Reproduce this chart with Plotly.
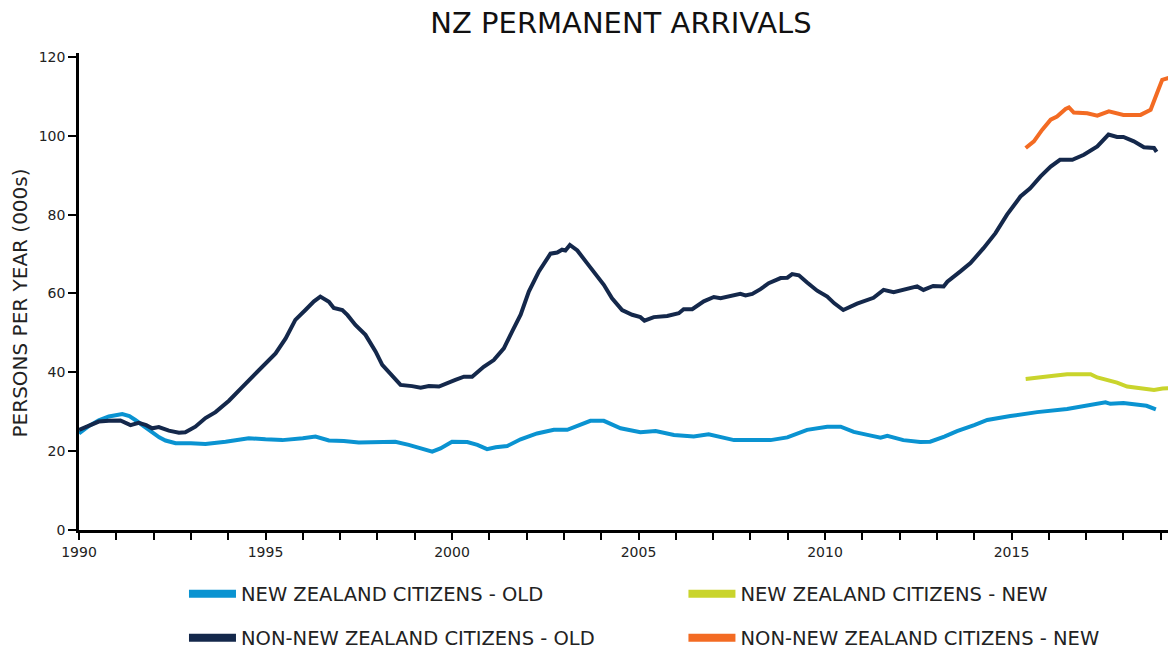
import plotly.graph_objects as go

# ---- data ----
nz_old_x = [1990.0, 1990.25, 1990.53, 1990.8, 1991.16, 1991.35, 1991.51, 1991.75, 1991.96, 1992.15,
            1992.32, 1992.59, 1993.0, 1993.39, 1993.93, 1994.55, 1995.0, 1995.45, 1996.0, 1996.34,
            1996.7, 1997.1, 1997.5, 1998.0, 1998.48, 1998.84, 1999.2, 1999.47, 1999.69, 2000.0,
            2000.41, 2000.68, 2000.94, 2001.17, 2001.48, 2001.84, 2002.28, 2002.73, 2003.09, 2003.4,
            2003.71, 2004.07, 2004.52, 2005.05, 2005.46, 2005.95, 2006.48, 2006.88, 2007.56, 2008.54,
            2008.99, 2009.52, 2010.06, 2010.42, 2010.77, 2011.2, 2011.49, 2011.67, 2012.1, 2012.55,
            2012.82, 2013.2, 2013.54, 2014.0, 2014.35, 2014.97, 2015.69, 2016.49, 2016.94, 2017.52,
            2017.65, 2018.0, 2018.62, 2018.87]
nz_old_y = [24.5, 26.3, 27.8, 28.8, 29.4, 28.9, 27.9, 26.2, 24.7, 23.5,
            22.7, 22.0, 22.0, 21.8, 22.4, 23.3, 23.0, 22.8, 23.3, 23.7,
            22.7, 22.6, 22.2, 22.3, 22.4, 21.6, 20.6, 19.9, 20.7, 22.4,
            22.3, 21.6, 20.5, 21.0, 21.3, 23.0, 24.5, 25.4, 25.4, 26.5,
            27.7, 27.7, 25.8, 24.8, 25.1, 24.1, 23.7, 24.3, 22.8, 22.8,
            23.5, 25.4, 26.2, 26.2, 24.9, 24.0, 23.4, 23.9, 22.8, 22.3,
            22.4, 23.7, 25.1, 26.6, 27.9, 28.9, 29.9, 30.7, 31.5, 32.4,
            32.0, 32.2, 31.5, 30.6]

nz_new_x = [2015.38, 2015.62, 2015.9, 2016.13, 2016.49, 2017.12, 2017.3, 2017.57, 2017.83, 2018.1,
            2018.46, 2018.82, 2019.05, 2019.3]
nz_new_y = [38.3, 38.5, 38.7, 39.1, 39.5, 39.5, 38.7, 38.1, 37.4, 36.4,
            36.0, 35.5, 35.9, 36.0]

non_old_x = [1990.0, 1990.25, 1990.53, 1990.8, 1991.11, 1991.38, 1991.6, 1991.8, 1991.96, 1992.14,
             1992.41, 1992.68, 1992.85, 1993.12, 1993.39, 1993.66, 1994.02, 1994.37, 1994.6, 1994.82,
             1995.05, 1995.27, 1995.54, 1995.8, 1996.07, 1996.3, 1996.47, 1996.6, 1996.7, 1996.83,
             1997.06, 1997.2, 1997.41, 1997.68, 1997.95, 1998.13, 1998.4, 1998.62, 1998.93, 1999.16,
             1999.38, 1999.65, 2000.09, 2000.32, 2000.54, 2000.85, 2001.12, 2001.39, 2001.61, 2001.84,
             2002.06, 2002.33, 2002.64, 2002.82, 2002.95, 2003.04, 2003.16, 2003.36, 2003.62, 2003.85,
             2004.07, 2004.29, 2004.56, 2004.83, 2005.05, 2005.16, 2005.41, 2005.77, 2006.08, 2006.21,
             2006.44, 2006.75, 2007.02, 2007.2, 2007.56, 2007.73, 2007.87, 2008.05, 2008.27, 2008.49,
             2008.81, 2008.99, 2009.12, 2009.3, 2009.52, 2009.79, 2010.06, 2010.25, 2010.49, 2010.86,
             2011.3, 2011.57, 2011.84, 2012.2, 2012.47, 2012.64, 2012.9, 2013.18, 2013.28, 2013.63,
             2013.9, 2014.25, 2014.57, 2014.88, 2015.24, 2015.5, 2015.78, 2016.05, 2016.3, 2016.63,
             2016.94, 2017.3, 2017.6, 2017.83, 2018.0, 2018.28, 2018.55, 2018.82, 2018.89]
non_old_y = [25.4, 26.5, 27.5, 27.7, 27.8, 26.6, 27.2, 26.6, 25.8, 26.1,
             25.2, 24.7, 24.8, 26.2, 28.4, 29.9, 32.8, 36.2, 38.4, 40.6,
             42.5, 44.8, 48.6, 53.3, 55.8, 58.0, 59.2, 58.6, 57.9, 56.3,
             55.8, 54.5, 52.0, 49.5, 45.3, 41.9, 38.9, 36.8, 36.5, 36.1,
             36.5, 36.4, 38.1, 38.9, 38.9, 41.4, 43.1, 46.1, 50.3, 54.6,
             60.5, 65.6, 70.1, 70.4, 71.1, 70.9, 72.3, 70.9, 67.7, 64.7,
             62.2, 58.8, 55.8, 54.6, 54.0, 53.1, 54.0, 54.3, 55.0, 56.0,
             56.0, 58.0, 59.1, 58.8, 59.5, 59.9, 59.5, 59.9, 61.1, 62.6,
             63.9, 64.0, 64.9, 64.6, 62.8, 60.7, 59.2, 57.5, 55.8, 57.4,
             58.9, 60.9, 60.3, 61.3, 61.8, 60.9, 61.9, 61.8, 63.0, 65.6,
             67.7, 71.5, 75.3, 80.0, 84.6, 86.7, 89.7, 92.2, 93.9, 93.9,
             95.2, 97.3, 100.3, 99.7, 99.7, 98.6, 97.1, 96.9, 95.9]

non_new_x = [2015.38, 2015.6, 2015.82, 2016.05, 2016.22, 2016.45, 2016.54, 2016.67, 2017.03, 2017.3,
             2017.61, 2018.0, 2018.46, 2018.73, 2018.9, 2019.04, 2019.3]
non_new_y = [96.9, 98.6, 101.5, 104.1, 104.9, 106.8, 107.2, 105.9, 105.7, 105.1,
             106.2, 105.3, 105.3, 106.6, 110.8, 114.2, 114.9]

series_names = ["NEW ZEALAND CITIZENS - OLD", "NEW ZEALAND CITIZENS - NEW",
                "NON-NEW ZEALAND CITIZENS - OLD", "NON-NEW ZEALAND CITIZENS - NEW"]
x_ticks = [1990, 1995, 2000, 2005, 2010, 2015]
y_ticks = [0, 20, 40, 60, 80, 100, 120]
y_title = "PERSONS PER YEAR (000s)"

C_NZ_OLD = "#0a93d1"
C_NZ_NEW = "#c9d42c"
C_NON_OLD = "#14284b"
C_NON_NEW = "#f36b23"

TXT = "#222222"
FONT = "DejaVu Sans"

fig = go.Figure()
series = [
    (nz_old_x, nz_old_y, C_NZ_OLD, series_names[0], "legend"),
    (nz_new_x, nz_new_y, C_NZ_NEW, series_names[1], "legend2"),
    (non_old_x, non_old_y, C_NON_OLD, series_names[2], "legend3"),
    (non_new_x, non_new_y, C_NON_NEW, series_names[3], "legend4"),
]
for xs, ys, col, name, lg in series:
    fig.add_trace(go.Scatter(x=xs, y=ys, mode="lines", name=name, showlegend=False,
                             line=dict(color=col, width=4, shape="linear"), hoverinfo="skip"))
# legend entries (thicker sample lines)
for xs, ys, col, name, lg in series:
    fig.add_trace(go.Scatter(x=[None], y=[None], mode="lines", name=name, legend=lg,
                             line=dict(color=col, width=8)))

legend_common = dict(orientation="h", xref="paper", yref="paper", xanchor="left", yanchor="middle",
                     itemwidth=47,
                     font=dict(family=FONT, size=19.5, color=TXT),
                     bgcolor="rgba(0,0,0,0)", borderwidth=0)

# page body has an 8px margin: figure is sized so that it ends exactly at the window edge
fig.update_layout(
    width=1168, height=643,
    paper_bgcolor="white", plot_bgcolor="white",
    margin=dict(l=71, r=0, t=45, b=121, autoexpand=False),
    title=dict(text="NZ PERMANENT ARRIVALS", x=0.5248, xanchor="center", y=0.9925, yanchor="top",
               xref="container", yref="container", pad=dict(t=0, b=0, l=0, r=0),
               font=dict(family=FONT, size=29, color="#111111")),
    xaxis=dict(range=[1990, 2019.41], tickmode="array", tickvals=x_ticks, automargin=False,
               showgrid=False, zeroline=False, showline=True, linecolor="black", linewidth=2.5,
               ticks="outside", ticklen=7, tickwidth=2, tickcolor="black",
               minor=dict(dtick=1, tick0=1990, ticks="outside", ticklen=7, tickwidth=2,
                          tickcolor="black", showgrid=False),
               tickfont=dict(family=FONT, size=14, color=TXT)),
    yaxis=dict(range=[0, 121], tickmode="array", tickvals=y_ticks, automargin=False,
               showgrid=False, zeroline=False, showline=True, linecolor="black", linewidth=2.5,
               ticks="outside", ticklen=8, tickwidth=2, tickcolor="black",
               tickfont=dict(family=FONT, size=14, color=TXT)),
    annotations=[dict(text=y_title, xref="paper", yref="paper", x=-0.0538, y=0.477,
                      xanchor="center", yanchor="middle", textangle=-90, showarrow=False,
                      font=dict(family=FONT, size=20, color=TXT))],
    legend=dict(x=0.0957, y=-0.1342, **legend_common),
    legend2=dict(x=0.551, y=-0.1342, **legend_common),
    legend3=dict(x=0.0957, y=-0.2264, **legend_common),
    legend4=dict(x=0.551, y=-0.2264, **legend_common),
)

fig.write_html("out.html")
